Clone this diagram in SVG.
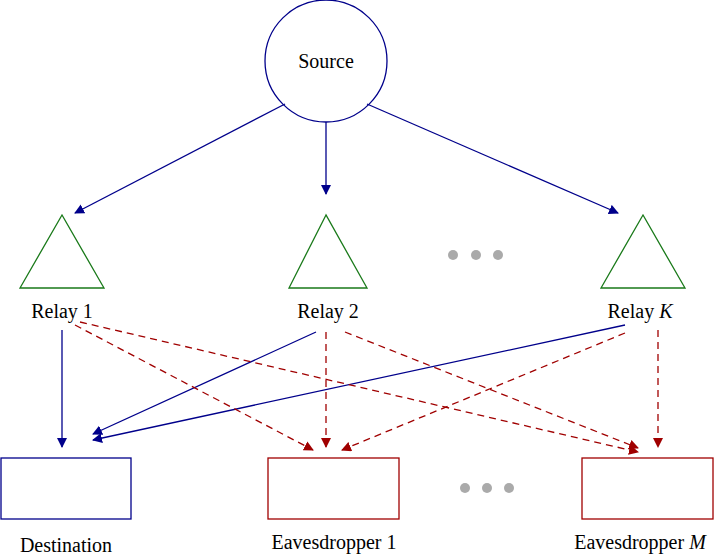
<svg xmlns="http://www.w3.org/2000/svg" width="722" height="556" viewBox="0 0 722 556">
<style>
text{font-family:"Liberation Serif",serif;font-size:20px;fill:#000;text-anchor:middle}
.tri{fill:#fff;stroke:#1a7a1a;stroke-width:1.3}
.b{stroke:#00008b;stroke-width:1.3;fill:none;marker-end:url(#ab)}
.r{stroke:#a00000;stroke-width:1.3;fill:none;stroke-dasharray:7,5;marker-end:url(#ar)}
.dot{fill:#aaa}
</style>
<defs>
<marker id="ab" viewBox="0 0 10 10" refX="9" refY="5" markerWidth="10" markerHeight="10" markerUnits="userSpaceOnUse" orient="auto"><path d="M0,0L10,5L0,10z" fill="#00008b"/></marker>
<marker id="ar" viewBox="0 0 10 10" refX="9" refY="5" markerWidth="10" markerHeight="10" markerUnits="userSpaceOnUse" orient="auto"><path d="M0,0L10,5L0,10z" fill="#a00000"/></marker>
</defs>
<rect width="722" height="556" fill="#fff"/>
<g id="source"><circle cx="326" cy="61" r="61" fill="#fff" stroke="#00008b" stroke-width="1.3"/><text x="326" y="68">Source</text></g>
<g id="relay1"><polygon class="tri" points="62,215 20,288 104,288"/><text x="62" y="318">Relay 1</text></g>
<g id="relay2"><polygon class="tri" points="326,215 289,288 367,288"/><text x="328" y="318">Relay 2</text></g>
<g id="relayK"><polygon class="tri" points="643,215 601,288 685,288"/><text x="640" y="318">Relay <tspan font-style="italic">K</tspan></text></g>
<g id="dots1"><circle class="dot" cx="453" cy="255" r="5"/><circle class="dot" cx="476" cy="255" r="5"/><circle class="dot" cx="498" cy="255" r="5"/></g>
<g id="dots2"><circle class="dot" cx="465" cy="488" r="5"/><circle class="dot" cx="487" cy="488" r="5"/><circle class="dot" cx="509" cy="488" r="5"/></g>
<g id="destination"><rect x="1" y="458" width="130" height="61" fill="#fff" stroke="#00008b" stroke-width="1.3"/><text x="66" y="552">Destination</text></g>
<g id="eve1"><rect x="268" y="458" width="131" height="61" fill="#fff" stroke="#a00000" stroke-width="1.3"/><text x="334" y="549">Eavesdropper 1</text></g>
<g id="eveM"><rect x="582" y="458" width="131" height="61" fill="#fff" stroke="#a00000" stroke-width="1.3"/><text x="640" y="549">Eavesdropper <tspan font-style="italic">M</tspan></text></g>
<g id="connectors">
<path class="b" d="M285,104L75,213"/>
<path class="b" d="M326,122L326,194"/>
<path class="b" d="M367,104L618,213"/>
<path class="b" d="M62,330L62,447"/>
<path class="b" d="M316,332L93,434"/>
<path class="b" d="M625,325L93,440"/>
<path class="r" d="M75,325L313,450"/>
<path class="r" d="M80,322L638,452"/>
<path class="r" d="M326,332L326,447"/>
<path class="r" d="M345,332L638,448"/>
<path class="r" d="M625,333L342,450"/>
<path class="r" d="M658,330L658,447"/>
</g>
</svg>
